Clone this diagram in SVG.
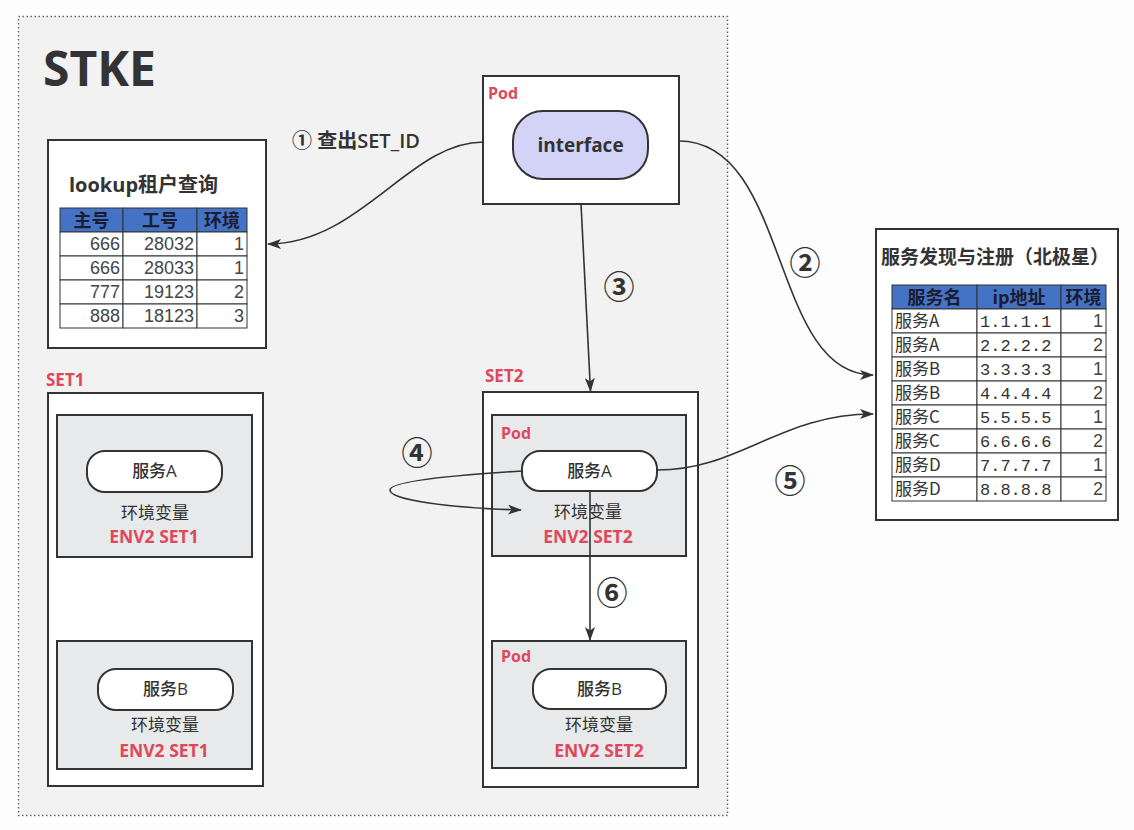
<svg xmlns="http://www.w3.org/2000/svg" width="1134" height="830" viewBox="0 0 1134 830">
<defs>
<marker id="arr" markerUnits="userSpaceOnUse" markerWidth="14" markerHeight="10" refX="13" refY="5" orient="auto">
<path d="M0 0 L14 5 L0 10 L3.5 5 Z" fill="#333"/>
</marker>
<style>
text{font-family:"Open Sans","Noto Sans CJK SC",sans-serif;fill:#333}
.box{fill:#fff;stroke:#333;stroke-width:2}
.inner{fill:#e7e9eb;stroke:#333;stroke-width:2}
.pill{fill:#fff;stroke:#333;stroke-width:2}
.red{fill:#e0475a;font-weight:bold}
.pod{fill:#e0475a;font-weight:bold;font-size:16px}
.svc{font-size:17px;font-weight:500;text-anchor:middle}
.env{font-size:17px;text-anchor:middle}
.envv{fill:#e0475a;font-weight:bold;font-size:17.5px;text-anchor:middle}
.hdr{fill:#4472c4;stroke:#333;stroke-width:1}
.cell{fill:#fff;stroke:#333;stroke-width:1}
.ht{font-family:"Noto Sans CJK SC",sans-serif;font-weight:bold;font-size:18px;fill:#1c1c30;text-anchor:middle}
.num{font-family:"Liberation Sans","Noto Sans CJK SC",sans-serif;font-size:18px;fill:#444;text-anchor:end}
.cjk{font-family:"Noto Sans CJK SC",sans-serif;font-size:17px;fill:#333}
.mono{font-family:"Liberation Mono","Noto Sans CJK SC",monospace;font-size:17px;fill:#333}
.conn{fill:none;stroke:#333;stroke-width:1.6}
.circ{font-family:"Noto Sans CJK SC",sans-serif;font-size:31px;font-weight:bold;text-anchor:middle;dominant-baseline:central;fill:#333}
</style>
</defs>
<rect x="0" y="0" width="1134" height="830" fill="#fdfdfd"/>

<g id="stke">
<rect x="18.5" y="16.5" width="709" height="799" fill="#f2f2f2" stroke="#666" stroke-width="1.5" stroke-dasharray="1.5 2.5"/>
<text x="43" y="86" font-size="48" font-weight="bold" fill="#333">STKE</text>
</g>

<g id="lookup">
<rect class="box" x="48" y="140" width="218" height="208"/>
<text x="69" y="192" font-size="20" font-weight="bold">lookup租户查询</text>
<rect class="hdr" x="60" y="208" width="63" height="24"/>
<rect class="hdr" x="123" y="208" width="74" height="24"/>
<rect class="hdr" x="197" y="208" width="50" height="24"/>
<text class="ht" x="91.5" y="227">主号</text>
<text class="ht" x="160" y="227">工号</text>
<text class="ht" x="222" y="227">环境</text>
<g>
<rect class="cell" x="60" y="232" width="63" height="24"/><rect class="cell" x="123" y="232" width="74" height="24"/><rect class="cell" x="197" y="232" width="50" height="24"/>
<rect class="cell" x="60" y="256" width="63" height="24"/><rect class="cell" x="123" y="256" width="74" height="24"/><rect class="cell" x="197" y="256" width="50" height="24"/>
<rect class="cell" x="60" y="280" width="63" height="24"/><rect class="cell" x="123" y="280" width="74" height="24"/><rect class="cell" x="197" y="280" width="50" height="24"/>
<rect class="cell" x="60" y="304" width="63" height="24"/><rect class="cell" x="123" y="304" width="74" height="24"/><rect class="cell" x="197" y="304" width="50" height="24"/>
</g>
<text class="num" x="120" y="250">666</text><text class="num" x="194" y="250">28032</text><text class="num" x="244" y="250">1</text>
<text class="num" x="120" y="274">666</text><text class="num" x="194" y="274">28033</text><text class="num" x="244" y="274">1</text>
<text class="num" x="120" y="298">777</text><text class="num" x="194" y="298">19123</text><text class="num" x="244" y="298">2</text>
<text class="num" x="120" y="322">888</text><text class="num" x="194" y="322">18123</text><text class="num" x="244" y="322">3</text>
</g>

<g id="pod-interface">
<rect class="box" x="483" y="76" width="196" height="128"/>
<text class="pod" x="488" y="99">Pod</text>
<rect x="513" y="111" width="135" height="68" rx="30" fill="#d3d3f7" stroke="#333" stroke-width="2"/>
<text x="580.5" y="152" font-size="19" font-weight="bold" text-anchor="middle" fill="#2b2d4a">interface</text>
</g>

<g id="registry">
<rect class="box" x="876" y="229" width="242" height="291"/>
<text x="881" y="264" font-family="Noto Sans CJK SC, sans-serif" font-size="19" font-weight="bold">服务发现与注册（北极星）</text>
<rect class="hdr" x="892" y="285" width="85" height="24"/>
<rect class="hdr" x="977" y="285" width="84" height="24"/>
<rect class="hdr" x="1061" y="285" width="45" height="24"/>
<text class="ht" x="934.5" y="304">服务名</text>
<text class="ht" x="1019" y="304">ip地址</text>
<text class="ht" x="1083.5" y="304">环境</text>
<g>
<rect class="cell" x="892" y="309" width="85" height="24"/><rect class="cell" x="977" y="309" width="84" height="24"/><rect class="cell" x="1061" y="309" width="45" height="24"/>
<rect class="cell" x="892" y="333" width="85" height="24"/><rect class="cell" x="977" y="333" width="84" height="24"/><rect class="cell" x="1061" y="333" width="45" height="24"/>
<rect class="cell" x="892" y="357" width="85" height="24"/><rect class="cell" x="977" y="357" width="84" height="24"/><rect class="cell" x="1061" y="357" width="45" height="24"/>
<rect class="cell" x="892" y="381" width="85" height="24"/><rect class="cell" x="977" y="381" width="84" height="24"/><rect class="cell" x="1061" y="381" width="45" height="24"/>
<rect class="cell" x="892" y="405" width="85" height="24"/><rect class="cell" x="977" y="405" width="84" height="24"/><rect class="cell" x="1061" y="405" width="45" height="24"/>
<rect class="cell" x="892" y="429" width="85" height="24"/><rect class="cell" x="977" y="429" width="84" height="24"/><rect class="cell" x="1061" y="429" width="45" height="24"/>
<rect class="cell" x="892" y="453" width="85" height="24"/><rect class="cell" x="977" y="453" width="84" height="24"/><rect class="cell" x="1061" y="453" width="45" height="24"/>
<rect class="cell" x="892" y="477" width="85" height="24"/><rect class="cell" x="977" y="477" width="84" height="24"/><rect class="cell" x="1061" y="477" width="45" height="24"/>
</g>
<text class="cjk" x="895" y="327">服务A</text><text class="mono" x="980" y="327">1.1.1.1</text><text class="num" x="1103" y="327">1</text>
<text class="cjk" x="895" y="351">服务A</text><text class="mono" x="980" y="351">2.2.2.2</text><text class="num" x="1103" y="351">2</text>
<text class="cjk" x="895" y="375">服务B</text><text class="mono" x="980" y="375">3.3.3.3</text><text class="num" x="1103" y="375">1</text>
<text class="cjk" x="895" y="399">服务B</text><text class="mono" x="980" y="399">4.4.4.4</text><text class="num" x="1103" y="399">2</text>
<text class="cjk" x="895" y="423">服务C</text><text class="mono" x="980" y="423">5.5.5.5</text><text class="num" x="1103" y="423">1</text>
<text class="cjk" x="895" y="447">服务C</text><text class="mono" x="980" y="447">6.6.6.6</text><text class="num" x="1103" y="447">2</text>
<text class="cjk" x="895" y="471">服务D</text><text class="mono" x="980" y="471">7.7.7.7</text><text class="num" x="1103" y="471">1</text>
<text class="cjk" x="895" y="495">服务D</text><text class="mono" x="980" y="495">8.8.8.8</text><text class="num" x="1103" y="495">2</text>
</g>

<g id="set1">
<text class="red" x="46" y="386" font-size="17">SET1</text>
<rect class="box" x="48" y="393" width="215" height="393"/>
</g>
<g id="set1-a">
<rect class="inner" x="57" y="415" width="195" height="142"/>
<rect class="pill" x="87" y="451" width="135" height="41" rx="18"/>
<text class="svc" x="154.5" y="477">服务A</text>
<text class="env" x="155" y="519">环境变量</text>
<text class="envv" x="154" y="543">ENV2 SET1</text>
</g>
<g id="set1-b">
<rect class="inner" x="57" y="641" width="195" height="128"/>
<rect class="pill" x="98" y="669" width="135" height="41" rx="18"/>
<text class="svc" x="165.5" y="695">服务B</text>
<text class="env" x="165" y="731">环境变量</text>
<text class="envv" x="164" y="757">ENV2 SET1</text>
</g>

<g id="set2">
<text class="red" x="485" y="382" font-size="17">SET2</text>
<rect class="box" x="483" y="392" width="215" height="395"/>
</g>
<g id="set2-pod-a">
<rect class="inner" x="492" y="415" width="194" height="141"/>
<text class="pod" x="501" y="439">Pod</text>
<rect class="pill" x="522" y="451" width="135" height="40" rx="18"/>
<text class="svc" x="589.5" y="477">服务A</text>
<text class="env" x="588" y="518">环境变量</text>
<text class="envv" x="588" y="543">ENV2 SET2</text>
</g>
<g id="set2-pod-b">
<rect class="inner" x="492" y="641" width="194" height="127"/>
<text class="pod" x="501" y="662">Pod</text>
<rect class="pill" x="533" y="669" width="133" height="40" rx="18"/>
<text class="svc" x="599.5" y="695">服务B</text>
<text class="env" x="599" y="731">环境变量</text>
<text class="envv" x="599" y="757">ENV2 SET2</text>
</g>

<g id="connectors">
<path class="conn" d="M483 142 C 410 142, 360 244, 268 244" marker-end="url(#arr)"/>
<path class="conn" d="M679 141 C 790 141, 770 375, 873 375" marker-end="url(#arr)"/>
<path class="conn" d="M581 204 L 590.5 391" marker-end="url(#arr)"/>
<path class="conn" d="M522 471 C 440 476, 390 482, 390 490 C 390 500, 450 508, 521 510" marker-end="url(#arr)"/>
<path class="conn" d="M657 470 C 740 470, 780 414, 873 414" marker-end="url(#arr)"/>
<path class="conn" d="M590 491 L 590 640" marker-end="url(#arr)"/>
</g>

<g id="labels">
<text x="292" y="148" font-size="20" font-weight="600">① 查出SET_ID</text>
<text class="circ" x="805" y="260">②</text>
<text class="circ" x="619" y="284">③</text>
<text class="circ" x="417" y="450">④</text>
<text class="circ" x="790" y="478">⑤</text>
<text class="circ" x="612" y="590">⑥</text>
</g>
</svg>
